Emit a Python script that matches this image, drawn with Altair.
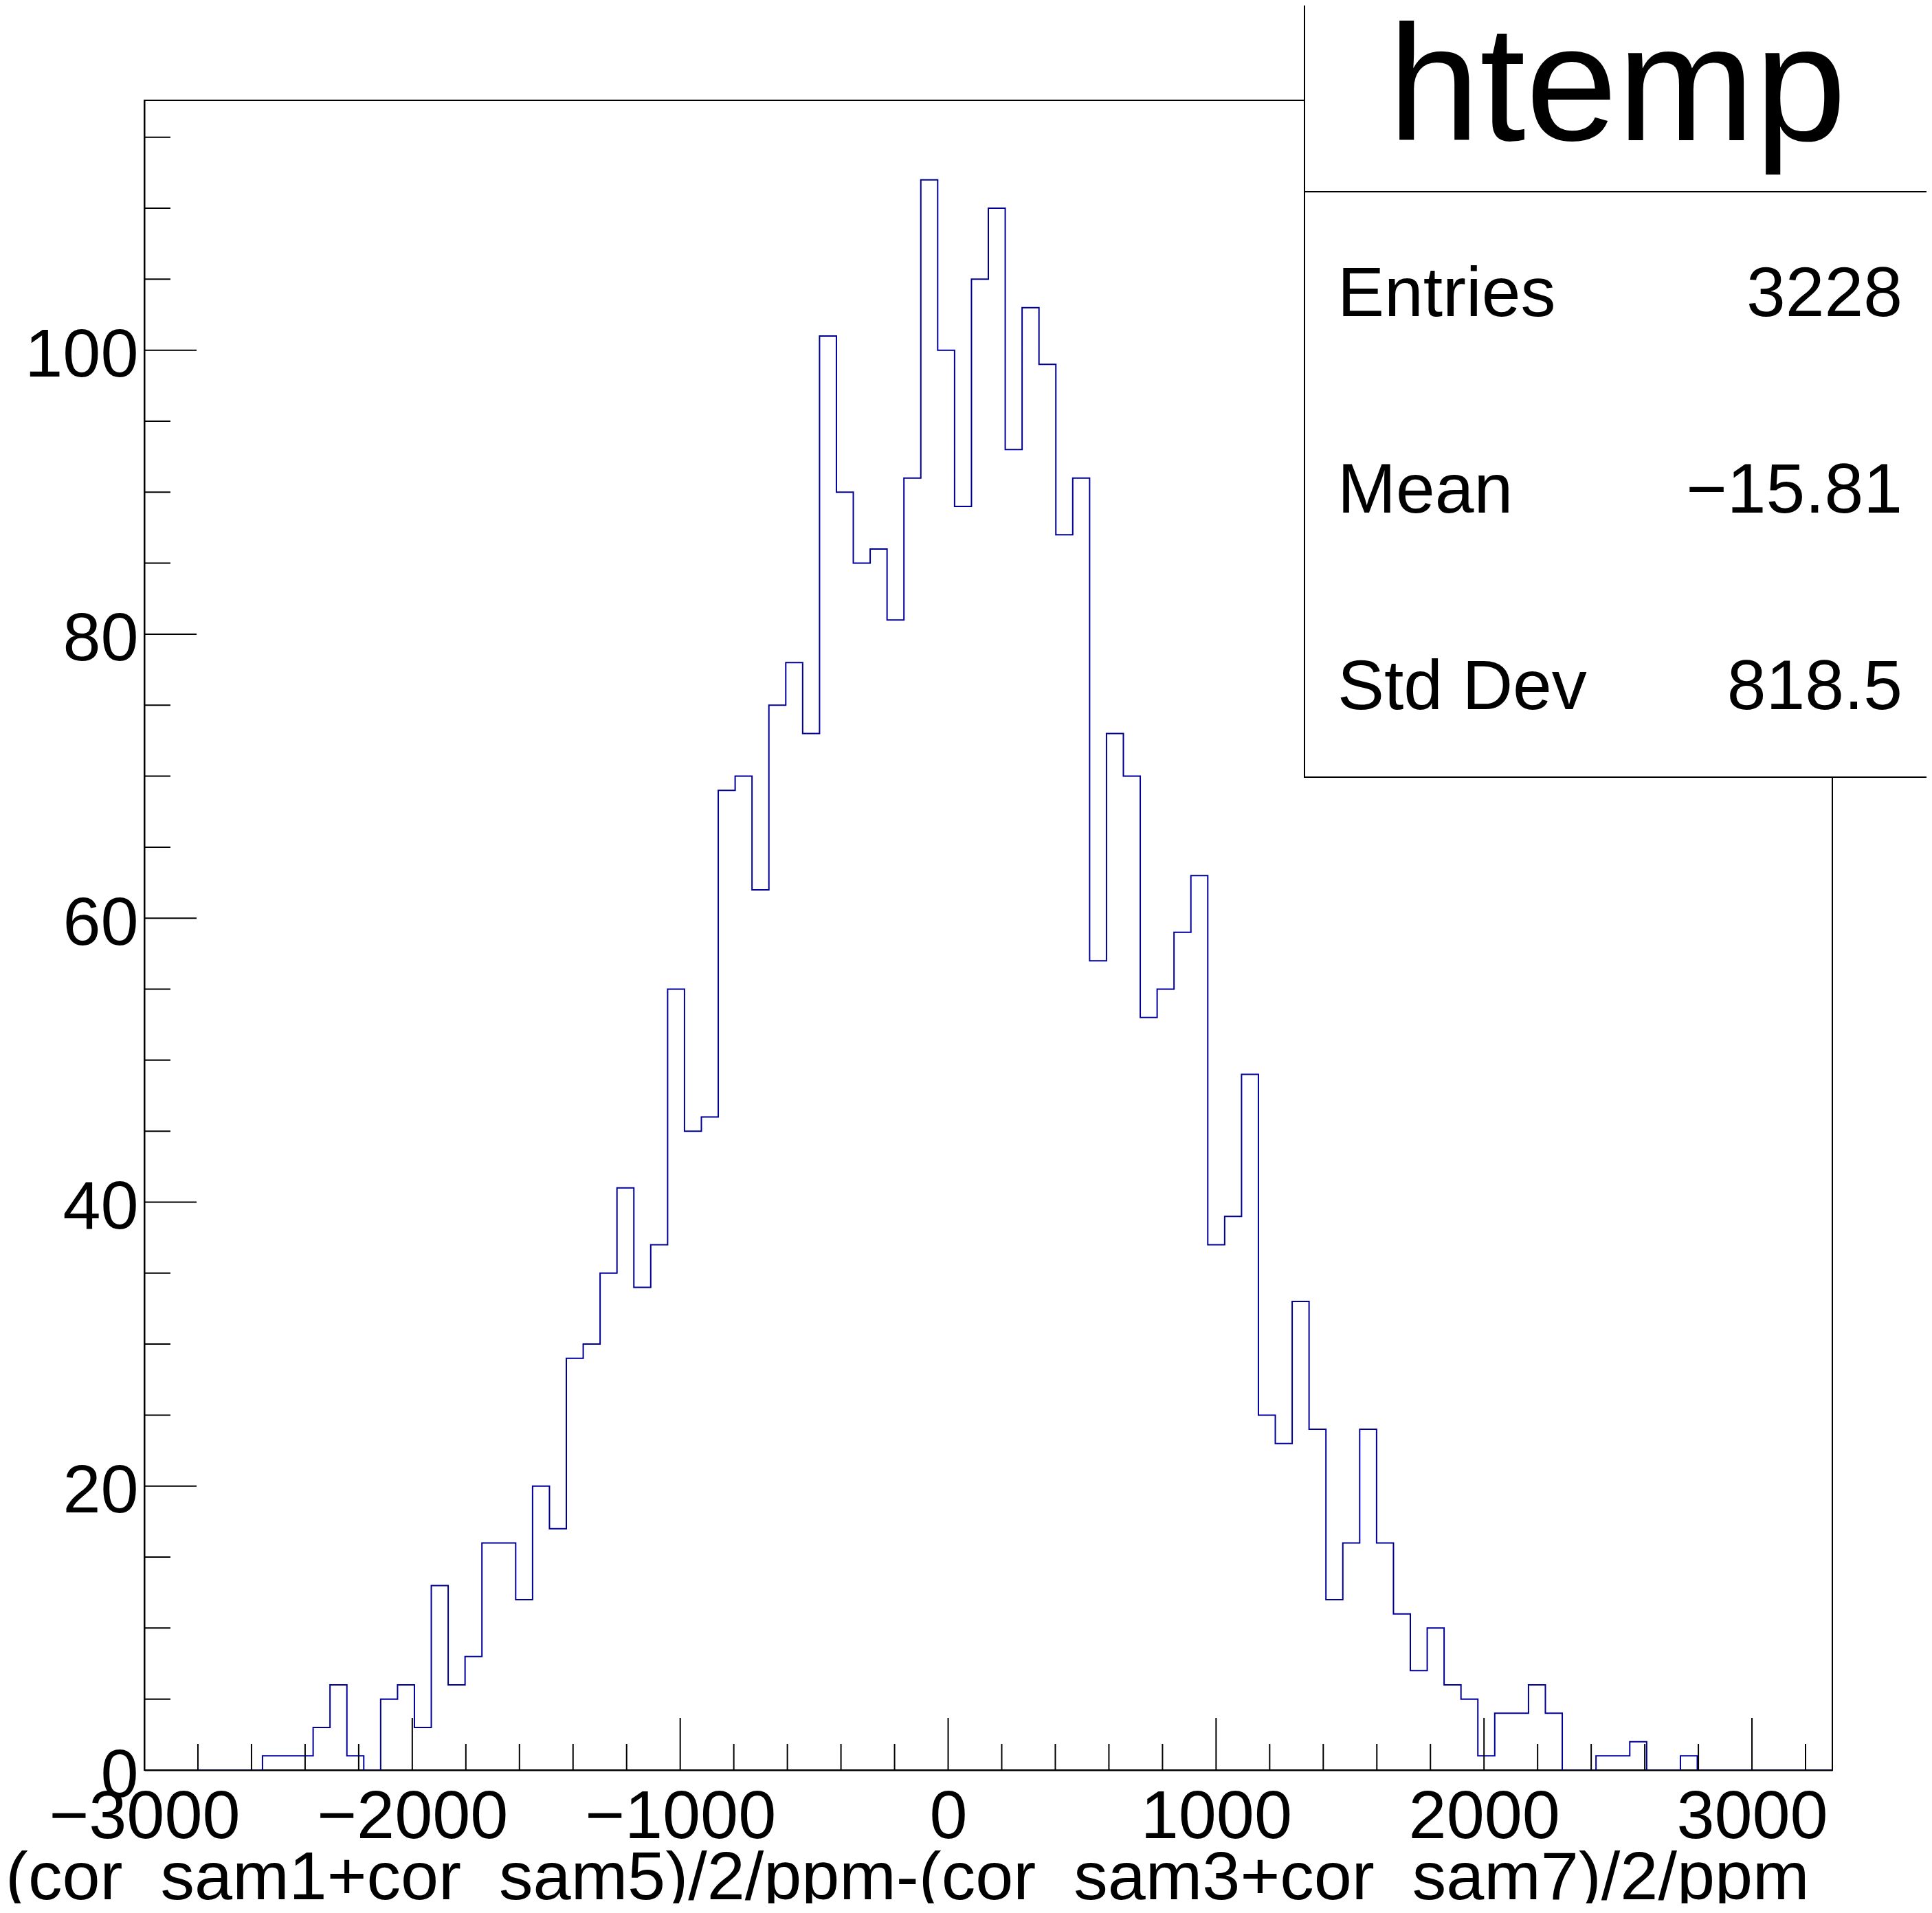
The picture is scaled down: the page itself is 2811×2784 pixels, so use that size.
import altair as alt
import pandas as pd

# ---------------- data ----------------
x_low = -3000.0
bin_width = 63.0
counts = [0, 0, 0, 0, 0, 0, 0,
          1, 1, 1, 3, 6, 1, 0, 5, 6, 3, 13, 6, 8, 16, 16, 12, 20, 17, 29, 30,
          35, 41, 34, 37, 55, 45, 46, 69, 70, 62,
          75, 78, 73, 101, 90, 85, 86, 81, 91, 112, 100, 89, 105, 110, 93, 103, 99, 87, 91, 57, 73,
          70, 53, 55, 59, 63, 37, 39, 49, 25, 23, 33,
          24, 12, 16, 24, 16, 11, 7, 10, 6, 5, 1, 4, 4, 6, 4, 0, 0, 1, 1, 2, 0, 0, 1,
          0, 0, 0, 0, 0, 0, 0, 0]

x_major = [-3000, -2000, -1000, 0, 1000, 2000, 3000]
x_minor = [-2800, -2600, -2400, -2200, -1800, -1600, -1400, -1200, -800, -600, -400, -200,
           200, 400, 600, 800, 1200, 1400, 1600, 1800, 2200, 2400, 2600, 2800, 3200]
y_major = [0, 20, 40, 60, 80, 100]
y_minor = [5, 10, 15, 25, 30, 35, 45, 50, 55, 65, 70, 75, 85, 90, 95, 105, 110, 115]

hist_title = "htemp"
stat_labels = ["Entries", "Mean", "Std Dev"]
stat_values = ["3228", "\u221215.81", "818.5"]
x_title = "(cor_sam1+cor_sam5)/2/ppm-(cor_sam3+cor_sam7)/2/ppm"

x_domain = [-3000, 3300]
y_domain = [0, 117.6]

# ---------------- layout ----------------
W, H = 2456, 2430
FONT = "Liberation Sans"
BLUE = "#000099"

edges = [x_low + k * bin_width for k in range(len(counts) + 1)]
hist_df = pd.DataFrame({"x": edges, "y": counts + [0]})

x_axis = alt.Axis(values=x_major, format="d", grid=False, ticks=False, tickSize=0,
                  domain=True, domainColor="black", domainWidth=2,
                  labelFont=FONT, labelFontSize=99, labelColor="black", labelPadding=20,
                  labelFlush=False, labelOverlap=False, labelLimit=0,
                  title=x_title, titleFont=FONT, titleFontSize=99, titleFontWeight="normal",
                  titleColor="black", titleAlign="right", titleBaseline="alphabetic",
                  titleAngle=0, titleX=2422, titleY=187, titleLimit=0, zindex=1)
y_axis = alt.Axis(values=y_major, format="d", grid=False, ticks=False, tickSize=0,
                  domain=True, domainColor="black", domainWidth=2,
                  labelFont=FONT, labelFontSize=99, labelColor="black", labelPadding=9,
                  labelOffset=8, labelFlush=False, labelOverlap=False, labelLimit=0,
                  title=None, zindex=1)

xs = alt.Scale(domain=x_domain, nice=False, zero=False)
ys = alt.Scale(domain=y_domain, nice=False, zero=False)


def X(f):
    return alt.X(f, type="quantitative", scale=xs, axis=x_axis)


def Y(f):
    return alt.Y(f, type="quantitative", scale=ys, axis=y_axis)


hist = alt.Chart(hist_df).mark_line(interpolate="step-after", color=BLUE,
                                    strokeWidth=2, clip=True).encode(x=X("x"), y=Y("y"))

ymaj = alt.Chart(pd.DataFrame({"y": y_major})).mark_rule(color="black", strokeWidth=2).encode(
    y=Y("y"), x=alt.value(0), x2=alt.value(76))
ymin = alt.Chart(pd.DataFrame({"y": y_minor})).mark_rule(color="black", strokeWidth=2).encode(
    y=Y("y"), x=alt.value(0), x2=alt.value(38))
xmaj = alt.Chart(pd.DataFrame({"x": x_major})).mark_rule(color="black", strokeWidth=2).encode(
    x=X("x"), y=alt.value(H), y2=alt.value(H - 76))
xmin = alt.Chart(pd.DataFrame({"x": x_minor})).mark_rule(color="black", strokeWidth=2).encode(
    x=X("x"), y=alt.value(H), y2=alt.value(H - 38))

one = pd.DataFrame({"a": [0]})
box = alt.Chart(one).mark_rect(fill="white", stroke="black", strokeWidth=2).encode(
    x=alt.value(1688), x2=alt.value(2750), y=alt.value(-300), y2=alt.value(985))
sep = alt.Chart(one).mark_rule(color="black", strokeWidth=2).encode(
    x=alt.value(1688), x2=alt.value(2750), y=alt.value(133))

title_txt = alt.Chart(pd.DataFrame({"t": [hist_title]})).mark_text(
    font=FONT, fontSize=240, align="center", baseline="alphabetic", color="black").encode(
    text="t:N", x=alt.value(2143), y=alt.value(58))

row_y = [314, 600, 886]
stat_layers = []
for lab, val, ry in zip(stat_labels, stat_values, row_y):
    d = pd.DataFrame({"t": [lab], "v": [val]})
    stat_layers.append(alt.Chart(d).mark_text(font=FONT, fontSize=102, align="left",
                                              baseline="alphabetic", color="black").encode(
        text="t:N", x=alt.value(1736), y=alt.value(ry)))
    stat_layers.append(alt.Chart(d).mark_text(font=FONT, fontSize=102, align="right",
                                              baseline="alphabetic", color="black").encode(
        text="v:N", x=alt.value(2558), y=alt.value(ry)))

chart = alt.layer(hist, ymaj, ymin, xmaj, xmin, box, sep, title_txt, *stat_layers).properties(
    width=W, height=H,
    autosize=alt.AutoSizeParams(type="none"),
    padding={"left": 202, "top": 138, "right": 137, "bottom": 194},
    background="white",
).configure_view(stroke="black", strokeWidth=2)

chart.save("out.html", embed_options={"renderer": "svg", "actions": False})
